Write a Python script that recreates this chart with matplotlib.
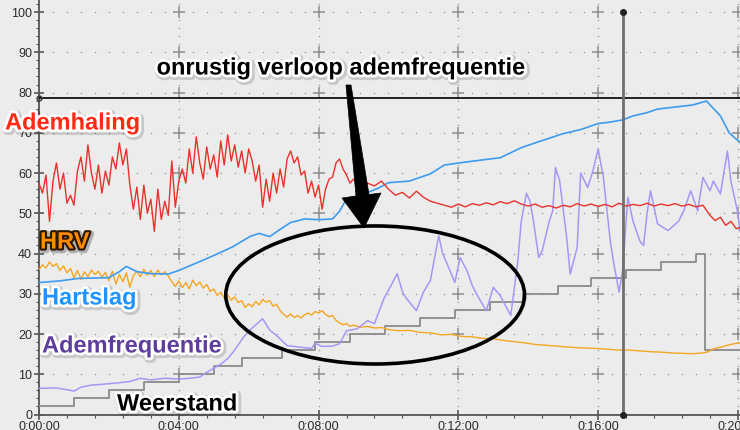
import numpy as np
import matplotlib
matplotlib.use("Agg")
import matplotlib.pyplot as plt
import matplotlib.patheffects as pe
from matplotlib.patches import Ellipse, Polygon
from matplotlib.ticker import MultipleLocator, FuncFormatter

plt.rcParams['font.family'] = ['Liberation Sans', 'DejaVu Sans']

# --------- DATA (time in minutes) ------------------------------
weerstand_t = [0, 1.0, 2.0, 3.0, 4.0, 5.0, 5.8, 6.95, 7.9, 8.9, 9.9, 10.9, 11.9,
               12.9, 13.85, 14.85, 15.8, 16.8, 17.8, 18.8, 19.05, 20.06]
weerstand_v = [2, 4, 6, 8, 10, 12, 14, 16, 18, 20, 22, 24, 26,
               28, 30, 32, 34, 36, 38, 40, 16, 16]

hartslag_t = [0, 0.6, 1.1, 2.0, 2.3, 2.5, 2.8, 3.2, 3.7, 4.0, 4.6, 5.0, 5.55, 6.05,
              6.3, 6.6, 6.9, 7.2, 7.6, 8.0, 8.4, 8.6, 8.8, 9.3, 9.7, 10.0, 10.6,
              11.2, 11.6, 12.1, 12.9, 13.2, 13.8, 14.2, 14.55, 15.0, 15.5, 16.0,
              16.3, 16.7, 17.0, 17.4, 17.7, 18.0, 18.7, 19.1, 19.25, 19.5, 19.75, 20.06]
hartslag_v = [32.8, 33.2, 33.8, 34.0, 35.5, 36.8, 35.5, 35.0, 34.9, 35.8, 38.0, 39.5,
              41.7, 44.3, 45.0, 44.2, 46.0, 47.7, 48.6, 48.4, 48.6, 50.5, 53.6, 54.8,
              56.2, 57.6, 58.0, 59.8, 62.0, 62.6, 63.5, 63.8, 66.3, 67.5, 68.5, 69.8,
              70.8, 72.3, 72.6, 73.2, 74.2, 75.0, 75.9, 76.2, 76.9, 77.9, 76.5, 74.2,
              70.0, 67.6]

hrv_t = [0.0, 0.1, 0.2, 0.3, 0.4, 0.5, 0.6, 0.7, 0.8, 0.9, 1.0, 1.1, 1.2, 1.3, 1.4,
         1.5, 1.6, 1.7, 1.8, 1.9, 2.0, 2.1, 2.2, 2.3, 2.4, 2.5, 2.6, 2.7, 2.8, 2.9,
         3.0, 3.1, 3.2, 3.3, 3.4, 3.5, 3.6, 3.7, 3.8, 3.9, 4.0, 4.1, 4.2, 4.3, 4.4,
         4.5, 4.6, 4.7, 4.8, 4.9, 5.0, 5.1, 5.2, 5.3, 5.4, 5.5, 5.6, 5.7, 5.8, 5.9,
         6.0, 6.1, 6.2, 6.3, 6.4, 6.5, 6.6, 6.7, 6.8, 6.9, 7.0, 7.1, 7.2, 7.3, 7.4,
         7.5, 7.6, 7.7, 7.8, 7.9, 8.0, 8.1, 8.2, 8.3, 8.4, 8.5, 8.6, 8.7, 8.8, 8.9,
         9.0, 9.2, 9.4, 9.6, 9.8, 10.0, 10.3, 10.6, 10.9, 11.2, 11.5, 11.8, 12.1,
         12.4, 12.7, 13.0, 13.3, 13.6, 13.9, 14.2, 14.5, 14.8, 15.1, 15.4, 15.7,
         16.0, 16.3, 16.6, 16.9, 17.2, 17.5, 17.8, 18.1, 18.4, 18.7, 19.0, 19.15,
         19.3, 19.5, 19.7, 19.9, 20.06]
hrv_v = [36.0, 37.2, 36.4, 37.9, 36.8, 37.5, 35.8, 36.9, 35.2, 36.3, 34.0, 35.8, 33.6,
         35.5, 34.2, 35.9, 34.8, 35.6, 34.1, 35.3, 33.2, 35.6, 32.4, 34.8, 33.0, 35.2,
         31.6, 34.5, 35.6, 34.2, 36.1, 34.6, 35.8, 34.3, 35.9, 34.7, 35.5, 34.4, 33.0,
         31.8, 33.2, 31.5, 32.8, 31.2, 33.4, 32.0, 32.9, 31.4, 32.3, 30.6, 31.2, 29.6,
         30.4, 28.9, 29.7, 28.4, 29.2, 27.8, 28.3, 26.6, 27.5, 26.8, 28.1, 27.2, 28.6,
         27.9, 28.3, 26.9, 27.4, 25.8, 24.9, 24.2, 25.0, 24.1, 24.6, 24.0, 24.8, 25.2,
         24.7, 25.6, 25.2, 25.8, 24.9, 24.3, 24.6, 23.4, 22.8, 22.3, 22.6, 21.9, 22.2,
         21.7, 21.9, 21.5, 21.6, 21.1, 20.8, 20.9, 20.4, 20.3, 19.8, 19.9, 19.4, 19.3,
         18.9, 18.8, 18.4, 18.1, 17.8, 17.4, 17.2, 17.0, 16.8, 16.6, 16.5, 16.4, 16.2,
         16.0, 16.0, 15.8, 15.6, 15.5, 15.3, 15.2, 15.1, 15.3, 15.6, 16.3, 16.7, 17.2,
         17.6, 17.8]

ademhaling_t = [0.0, 0.1, 0.2, 0.3, 0.4, 0.5, 0.6, 0.7, 0.8, 0.9, 1.0, 1.1, 1.2, 1.3,
                1.4, 1.5, 1.6, 1.7, 1.8, 1.9, 2.0, 2.1, 2.2, 2.3, 2.4, 2.5, 2.6, 2.7,
                2.8, 2.9, 3.0, 3.1, 3.2, 3.3, 3.4, 3.5, 3.6, 3.7, 3.8, 3.9, 4.0, 4.1,
                4.2, 4.3, 4.4, 4.5, 4.6, 4.7, 4.8, 4.9, 5.0, 5.1, 5.2, 5.3, 5.4, 5.5,
                5.6, 5.7, 5.8, 5.9, 6.0, 6.1, 6.2, 6.3, 6.4, 6.5, 6.6, 6.7, 6.8, 6.9,
                7.0, 7.1, 7.2, 7.3, 7.4, 7.5, 7.6, 7.7, 7.8, 7.9, 8.0, 8.1, 8.2, 8.3,
                8.4, 8.5, 8.6, 8.7, 8.8, 8.9, 9.0, 9.2, 9.4, 9.6, 9.8, 10.0, 10.2,
                10.4, 10.6, 10.8, 11.0, 11.2, 11.4, 11.6, 11.8, 12.0, 12.2, 12.4, 12.6,
                12.8, 13.0, 13.2, 13.4, 13.6, 13.8, 14.0, 14.2, 14.4, 14.6, 14.8, 15.0,
                15.2, 15.4, 15.6, 15.8, 16.0, 16.2, 16.4, 16.6, 16.8, 17.0, 17.2, 17.4,
                17.6, 17.8, 18.0, 18.2, 18.4, 18.6, 18.8, 19.0, 19.2, 19.35, 19.5,
                19.65, 19.8, 19.95, 20.06]
ademhaling_v = [57.5, 55.0, 59.5, 48.0, 58.0, 62.5, 56.0, 60.0, 52.5, 54.5, 52.0, 60.5,
                64.0, 58.0, 67.0, 60.0, 56.0, 62.0, 55.0, 60.5, 57.0, 64.0, 61.0, 67.5,
                62.0, 66.0, 57.0, 51.0, 56.5, 48.5, 57.0, 50.0, 53.5, 45.5, 56.0, 48.5,
                53.0, 49.5, 63.0, 51.5, 58.0, 61.0, 57.5, 66.0, 60.0, 69.0, 62.5, 58.5,
                66.5, 61.0, 64.5, 59.0, 68.0, 62.0, 69.5, 63.0, 67.0, 61.5, 65.5, 60.0,
                66.0, 63.0, 58.0, 62.0, 51.5, 58.5, 53.0, 60.0, 55.0, 61.0, 56.5, 63.5,
                65.5, 62.5, 64.0, 59.5, 60.5, 55.0, 58.0, 54.0, 57.0, 51.0, 56.0, 58.5,
                59.0, 62.5, 63.5, 61.0, 59.5, 57.5, 58.5, 56.5, 57.5, 56.8, 58.0, 56.0,
                54.5, 55.2, 53.8, 55.5, 54.0, 53.0, 52.5, 52.0, 51.5, 52.3, 51.6, 52.4,
                52.0, 52.6, 52.1, 52.9, 52.4, 53.1, 52.3, 51.8, 52.3, 51.5, 51.9, 51.3,
                52.0, 51.6, 52.4, 51.8, 52.3, 51.7, 52.2, 51.6, 52.5, 51.8, 52.2, 51.9,
                52.5, 51.8, 52.3, 51.9, 52.4, 51.8, 52.2, 51.6, 52.0, 49.5, 48.2, 49.0,
                47.0, 48.0, 46.2, 46.5]

ademfreq_t = [0.0, 0.5, 0.9, 1.0, 1.2, 1.5, 1.8, 2.2, 2.6, 2.9, 3.2, 3.6, 4.0, 4.3,
              4.6, 4.8, 5.0, 5.2, 5.4, 5.6, 5.85, 6.1, 6.4, 6.6, 6.8, 7.1, 7.5, 7.8,
              7.9, 8.1, 8.4, 8.6, 8.8, 9.1, 9.4, 9.6, 9.87, 10.1, 10.25, 10.4, 10.5,
              10.8, 11.0, 11.2, 11.3, 11.44, 11.55, 11.7, 11.9, 12.05, 12.25, 12.4,
              12.55, 12.8, 13.0, 13.2, 13.5, 13.7, 13.8, 13.95, 14.05, 14.15, 14.3,
              14.4, 14.6, 14.7, 14.78, 14.9, 15.1, 15.2, 15.4, 15.5, 15.7, 15.85, 16.0,
              16.15, 16.35, 16.45, 16.6, 16.7, 16.85, 17.0, 17.2, 17.3, 17.4, 17.5,
              17.7, 18.0, 18.3, 18.45, 18.65, 18.85, 19.0, 19.2, 19.3, 19.5, 19.7,
              19.8, 20.0, 20.06]
ademfreq_v = [6.5, 6.6, 6.0, 5.8, 6.8, 7.3, 7.5, 7.8, 8.2, 9.0, 8.6, 9.0, 8.8, 9.0,
              9.3, 10.5, 11.5, 12.5, 13.9, 16.0, 19.2, 21.5, 23.8, 21.0, 19.6, 17.1,
              16.7, 16.4, 17.7, 16.9, 17.0, 17.6, 20.8, 21.3, 23.3, 22.6, 28.8, 32.5,
              35.0, 30.5, 29.0, 25.8, 30.4, 33.3, 38.0, 44.4, 40.0, 37.0, 32.8, 39.0,
              35.7, 32.0, 29.5, 25.8, 31.6, 29.5, 24.6, 38.0, 48.0, 55.0, 53.0, 48.0,
              39.0, 40.7, 48.0, 50.6, 61.4, 58.0, 44.0, 34.9, 41.5, 60.0, 56.4, 60.5,
              66.0, 58.9, 43.0, 37.4, 30.4, 35.7, 54.0, 48.0, 43.0, 42.0, 50.0, 55.6,
              47.4, 45.7, 48.0, 50.6, 55.6, 50.6, 58.9, 55.6, 58.0, 54.8, 65.5, 58.0,
              50.0, 45.6]

marker_level = 78.6   # horizontal reference line
cursor_time = 16.72   # vertical cursor
# ----------------------------------------------------------------

BG = '#ececec'
W, H = 740, 430

fig = plt.figure(figsize=(7.4, 4.3), dpi=100, facecolor=BG)
ax = fig.add_axes([39 / W, 15.5 / H, 701 / W, 414.5 / H])
ax.set_facecolor(BG)
ax.set_xlim(0, 20.06)
ax.set_ylim(0, 103)

for s in ['top', 'right']:
    ax.spines[s].set_visible(False)
for s in ['left', 'bottom']:
    ax.spines[s].set_color('#555555')
    ax.spines[s].set_linewidth(1.3)

ax.xaxis.set_major_locator(MultipleLocator(4))
ax.xaxis.set_minor_locator(MultipleLocator(0.8))
ax.yaxis.set_major_locator(MultipleLocator(10))
ax.yaxis.set_minor_locator(MultipleLocator(2))
ax.xaxis.set_major_formatter(FuncFormatter(lambda x, pos: f"0:{int(round(x)):02d}:00"))
ax.tick_params(which='major', direction='inout', length=7, width=1.2,
               color='#555555', labelsize=9, labelcolor='#2a2a2a', pad=1.5)
ax.tick_params(which='minor', direction='out', length=2.2, width=0.8, color='#555555')

# dotted grid + crosses at major intersections
xmaj = np.arange(4, 20.1, 4)
ymaj = np.arange(10, 101, 10)
for yv in ymaj:
    xs = np.arange(0.4, 20.1, 0.4)
    ax.scatter(xs, np.full_like(xs, yv), s=1.2, color='#9c9c9c', lw=0, zorder=1)
for xv in xmaj:
    ys = np.arange(2, 103, 2)
    ax.scatter(np.full_like(ys, xv, dtype=float), ys, s=1.2, color='#9c9c9c', lw=0, zorder=1)
gx, gy = np.meshgrid(xmaj, ymaj)
ax.plot(gx.ravel(), gy.ravel(), ls='none', marker='+', ms=8, mew=1.1,
        color='#8e8e8e', zorder=1)

# series
ax.plot(weerstand_t, weerstand_v, drawstyle='steps-post', color='#8a8a8a', lw=1.3, zorder=3)
ax.plot(hrv_t, hrv_v, color='#f5a623', lw=1.0, zorder=3)
ax.plot(hartslag_t, hartslag_v, color='#3d9bf0', lw=1.2, zorder=3)
ax.plot(ademfreq_t, ademfreq_v, color='#a597f7', lw=1.1, zorder=3)
ax.plot(ademhaling_t, ademhaling_v, color='#e8322b', lw=1.0, zorder=4)

# reference line and cursor
ax.axhline(marker_level, color='black', lw=1.2, zorder=5)
ax.plot([0], [marker_level], marker='o', ms=3.5, mfc='none', mec='#333333',
        clip_on=False, zorder=6)
ax.plot([cursor_time, cursor_time], [0, 100], color='#6e6e6e', lw=2.0, zorder=6)
ax.plot([cursor_time, cursor_time], [0, 100], ls='none', marker='o', ms=4,
        color='#222222', clip_on=False, zorder=7)

# annotation ellipse
ax.add_patch(Ellipse((9.62, 29.7), 8.55, 34.3, fill=False, ec='black', lw=2.6, zorder=8))


def px(x, y):
    return (x / W, 1 - y / H)


arrow_pts = [px(346, 85), px(351, 85), px(369, 194.5), px(381, 193),
             px(364, 228), px(342, 198), px(356, 196)]
fig.patches.append(Polygon(arrow_pts, closed=True, fc='black', ec='black', lw=0.5,
                           transform=fig.transFigure, zorder=9))

halo = [pe.Stroke(linewidth=6, foreground=(0, 0, 0, 0.15), offset=(1, -1)),
        pe.Stroke(linewidth=4, foreground='white'), pe.Normal()]
dark = [pe.Stroke(linewidth=5, foreground=(0, 0, 0, 0.25), offset=(1, -1)),
        pe.Stroke(linewidth=3, foreground='#2b1600'), pe.Normal()]

labels = [
    ("Ademhaling", 5, 123, '#ff2a14', halo),
    ("HRV", 40, 242, '#ff8c00', dark),
    ("Hartslag", 42, 298, '#1f93ff', halo),
    ("Ademfrequentie", 42, 346, '#5e3d9c', halo),
    ("Weerstand", 117, 404, 'black', halo),
]
for txt, lx, ly, col, eff in labels:
    x, y = px(lx, ly)
    fig.text(x, y, txt, color=col, fontsize=17, fontweight='bold', ha='left',
             va='center', path_effects=eff, zorder=10)

x, y = px(341, 68)
fig.text(x, y, "onrustig verloop ademfrequentie", color='black', fontsize=17,
         fontweight='bold', ha='center', va='center', path_effects=halo, zorder=10)

fig.savefig('out.png', dpi=100, facecolor=BG)
